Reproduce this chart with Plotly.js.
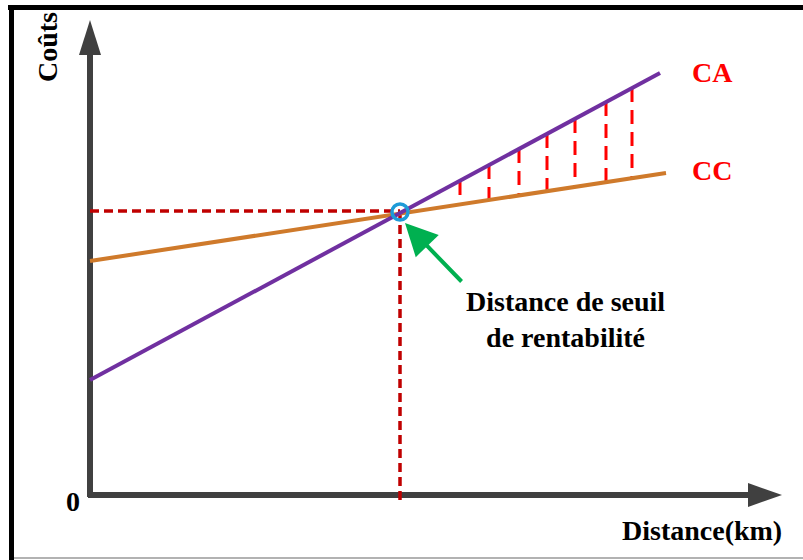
<!DOCTYPE html>
<html>
<head>
<meta charset="utf-8">
<script src="https://cdn.plot.ly/plotly-3.0.1.min.js"></script>
<style>html,body{margin:0;padding:0;background:#fff;}#chart{width:803px;height:560px;}</style>
</head>
<body>
<div id="chart"></div>
<script>
// Data (arbitrary units)
const caX = [0, 57];
const caY = [11.5, 42.2];
const ccX = [0, 57.6];
const ccY = [23.4, 32.2];
const breakEvenX = 31;
const breakEvenY = 28.4;
const hatchX = [37, 39.9, 42.9, 45.7, 48.5, 51.6, 54.2];
const hatchTop = [31.4, 33.0, 34.6, 36.1, 37.6, 39.3, 40.7];
const hatchBottom = [29.05, 29.5, 29.95, 30.4, 30.8, 31.3, 31.7];
const labels = {ca: "CA", cc: "CC", xTitle: "Distance(km)", yTitle: "Coûts", origin: "0",
  note: "Distance de seuil<br>de rentabilité"};

const serif = "Liberation Serif, Times New Roman, serif";

// build hatch segments
const hx = [], hy = [];
hatchX.forEach((x, i) => { hx.push(x, x, null); hy.push(hatchTop[i], hatchBottom[i], null); });

const traces = [
  {x: hx, y: hy, mode: "lines", line: {color: "#FF0000", width: 3, dash: "14px,8px"}, hoverinfo: "skip"},
  {x: [0, breakEvenX], y: [breakEvenY, breakEvenY], mode: "lines",
   line: {color: "#C00000", width: 3.5, dash: "9px,5px"}, hoverinfo: "skip"},
  {x: [breakEvenX, breakEvenX], y: [breakEvenY, -0.5], mode: "lines",
   line: {color: "#C00000", width: 3.5, dash: "9px,5px"}, hoverinfo: "skip"},
  {x: ccX, y: ccY, mode: "lines", line: {color: "#CF7A2B", width: 4}, hoverinfo: "skip"},
  {x: caX, y: caY, mode: "lines", line: {color: "#7030A0", width: 4}, hoverinfo: "skip"},
  {x: [breakEvenX], y: [breakEvenY - 0.1], mode: "markers",
   marker: {symbol: "circle-open", size: 16, line: {color: "#1E9BD7", width: 3.5}, color: "#1E9BD7"}, hoverinfo: "skip"}
];

const axisColor = "#404040";
const shapes = [
  // frame
  {type: "line", xref: "paper", yref: "paper", x0: 8/803, x1: 1, y0: 1 - 7.5/560, y1: 1 - 7.5/560, line: {color: "#000", width: 5}},
  {type: "line", xref: "paper", yref: "paper", x0: 11.5/803, x1: 11.5/803, y0: 0, y1: 1 - 5/560, line: {color: "#000", width: 5}},
  {type: "line", xref: "paper", yref: "paper", x0: 14/803, x1: 1, y0: 2/560, y1: 2/560, line: {color: "#999", width: 1.5}},
  // axes
  {type: "line", layer: "below", x0: 0, x1: 0, y0: -0.2, y1: 44.5, line: {color: axisColor, width: 6}},
  {type: "line", layer: "below", x0: -0.2, x1: 66, y0: 0, y1: 0, line: {color: axisColor, width: 6}},
  {type: "path", layer: "below", path: "M -1.1 44 L 1.1 44 L 0 47.5 Z", fillcolor: axisColor, line: {width: 0}},
  {type: "path", layer: "below", path: "M 65.8 1.2 L 65.8 -1.2 L 69.2 0 Z", fillcolor: axisColor, line: {width: 0}}
];

const bold = {family: serif, weight: "bold", color: "#000", size: 28};
const annotations = [
  {x: 62.2, y: 42.3, text: labels.ca, showarrow: false, font: Object.assign({}, bold, {color: "#FF0000", size: 28})},
  {x: 62.2, y: 32.5, text: labels.cc, showarrow: false, font: Object.assign({}, bold, {color: "#FF0000", size: 28})},
  {x: -1.7, y: -0.6, text: labels.origin, showarrow: false, font: bold},
  {x: 61.2, y: -3.5, text: labels.xTitle, showarrow: false, font: bold},
  {x: -4.3, y: 44.8, text: labels.yTitle, showarrow: false, textangle: -90, font: bold},
  {x: 56.5 - 9, y: 17.6, text: labels.note, showarrow: false, font: bold, align: "center"},
  {x: 31.5, y: 27.2, ax: 58, ay: 60, text: "", showarrow: true, arrowhead: 2, arrowsize: 1.6,
   arrowwidth: 4, arrowcolor: "#00B050", standoff: 0}
];

const hidden = {showgrid: false, zeroline: false, showticklabels: false, ticks: "", showline: false, fixedrange: true};
const layout = {
  width: 803, height: 560,
  margin: {l: 0, r: 0, t: 0, b: 0},
  paper_bgcolor: "#fff", plot_bgcolor: "#fff",
  showlegend: false,
  xaxis: Object.assign({range: [-9, 71.3]}, hidden),
  yaxis: Object.assign({range: [-6.5, 49.5]}, hidden),
  shapes: shapes,
  annotations: annotations
};

Plotly.newPlot("chart", traces, layout, {displayModeBar: false, staticPlot: true});
</script>
</body>
</html>
